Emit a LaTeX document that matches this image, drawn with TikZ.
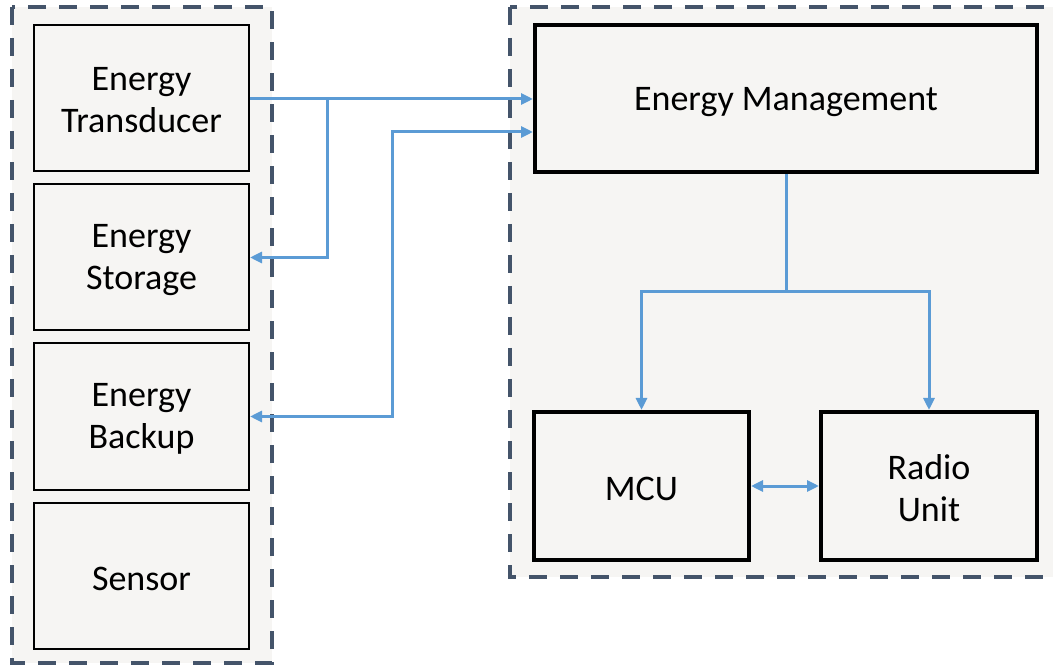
\documentclass[tikz,border=0pt]{standalone}
\usepackage{fontspec}
\setmainfont{Carlito}
\usetikzlibrary{arrows.meta}
\definecolor{conncol}{HTML}{5B9BD5}
\definecolor{dashcol}{HTML}{44546A}
\definecolor{panel}{HTML}{F6F5F3}
\tikzset{
  container/.style={draw=dashcol, fill=panel, line width=4pt, dash pattern=on 18pt off 13pt},
  lbox/.style={draw=black, fill=panel, line width=2pt, minimum width=215pt, minimum height=146pt, inner sep=0pt},
  rbox/.style={draw=black, fill=panel, line width=4pt, minimum height=147pt, inner sep=0pt},
  txt/.style={align=center, font=\fontsize{36}{42}\selectfont, inner sep=0pt},
  conn/.style={draw=conncol, line width=3pt, -{Triangle[length=12pt,width=11pt]}},
  biconn/.style={draw=conncol, line width=3pt, {Triangle[length=12pt,width=11pt]}-{Triangle[length=12pt,width=11pt]}},
  plain/.style={draw=conncol, line width=3pt}
}
\begin{document}
\begin{tikzpicture}[x=1pt,y=-1pt]
\useasboundingbox (0,0) rectangle (1053,668);
\fill[white] (0,0) rectangle (1053,668);
% containers
\path[container] (12,7) rectangle (272,663);
\path[container] (510,7) rectangle (1075,577);
% left boxes
\node[lbox] (T) at (141.5,98) {};
\node[lbox] (S) at (141.5,257.5) {};
\node[lbox] (B) at (141.5,416.5) {};
\node[lbox] (Se) at (141.5,576) {};
% right boxes
\node[rbox, minimum width=502pt] (EM) at (786,98.5) {};
\node[rbox, minimum width=215pt, minimum height=148pt] (M) at (641.5,486) {};
\node[rbox, minimum width=216pt, minimum height=148pt] (R) at (929,486) {};
% texts
\node[txt] (tT) at ([yshift=-2.5pt]T.center) {Energy\\Transducer};
\node[txt] (tS) at ([yshift=-2.5pt]S.center) {Energy\\Storage};
\node[txt] (tB) at ([yshift=-2.5pt]B.center) {Energy\\Backup};
\node[txt] (tSe) at ([yshift=-2.5pt]Se.center) {Sensor};
\node[txt] (tEM) at ([yshift=-4pt]EM.center) {Energy Management};
\node[txt] (tM) at ([yshift=-3pt]M.center) {MCU};
\node[txt] (tR) at ([yshift=-2pt]R.center) {Radio\\Unit};
% junctions
\coordinate (j1) at (327,99);
\coordinate (j2) at (392,132);
\coordinate (j3) at (786,292);
% connectors
\draw[conn] (T.east |- j1) -- (j1 -| EM.west);
\draw[conn] (j1) |- (S.east);
\draw[biconn] (B.east) -| (j2) -- (j2 -| EM.west);
\draw[plain] (EM.south) -- (j3);
\draw[conn] (j3) -| (M.north);
\draw[conn] (j3) -| (R.north);
\draw[biconn] (M.east) -- (R.west);
\end{tikzpicture}
\end{document}
